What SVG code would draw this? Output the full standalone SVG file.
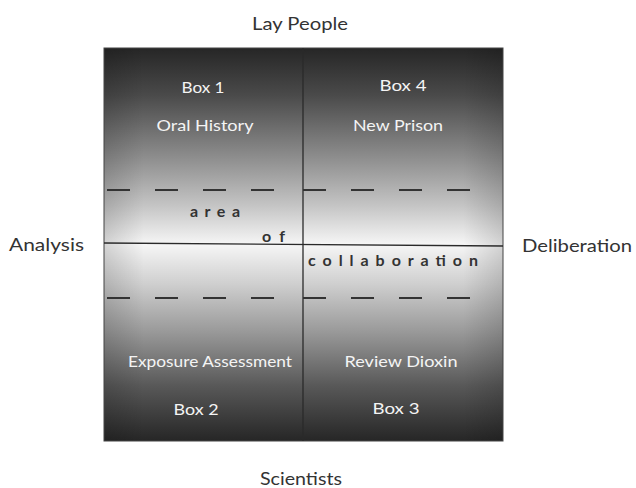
<svg xmlns="http://www.w3.org/2000/svg" width="636" height="488" viewBox="0 0 636 488">
<style>
.outer{font-family:"Lato","Open Sans","Liberation Sans",sans-serif;font-size:18px;fill:#333;}
.inner{font-family:"Lato","Open Sans","Liberation Sans",sans-serif;font-size:15px;fill:#f4f4f4;text-anchor:middle;}
.collab{font-family:"Lato","Open Sans","Liberation Sans",sans-serif;font-size:16px;font-weight:bold;fill:#333;}
.div{stroke:#2a2a2a;stroke-width:1.3;fill:none;}
.dash{stroke:#333;stroke-width:1.8;fill:none;stroke-dasharray:23 25;}
</style>
<defs>
<linearGradient id="vg" x1="0" y1="48" x2="0" y2="441" gradientUnits="userSpaceOnUse">
<stop offset="0" stop-color="#262626"/>
<stop offset="0.12" stop-color="#4a4a4a"/>
<stop offset="0.28" stop-color="#8e8e8e"/>
<stop offset="0.4" stop-color="#c4c4c4"/>
<stop offset="0.5" stop-color="#f6f6f6"/>
<stop offset="0.6" stop-color="#cfcfcf"/>
<stop offset="0.72" stop-color="#9a9a9a"/>
<stop offset="0.86" stop-color="#585858"/>
<stop offset="1" stop-color="#262626"/>
</linearGradient>
<linearGradient id="hg" x1="104" y1="0" x2="503" y2="0" gradientUnits="userSpaceOnUse">
<stop offset="0" stop-color="#000" stop-opacity="0.14"/>
<stop offset="0.1" stop-color="#000" stop-opacity="0"/>
<stop offset="0.9" stop-color="#000" stop-opacity="0"/>
<stop offset="1" stop-color="#000" stop-opacity="0.14"/>
</linearGradient>
</defs>
<rect width="636" height="488" fill="#fff"/>
<g id="matrix">
<rect x="104" y="48" width="399" height="393" fill="url(#vg)"/>
<rect x="104" y="48" width="399" height="393" fill="url(#hg)" stroke="#444" stroke-width="1"/>
</g>
<g id="connectors">
<line class="div" x1="303" y1="48" x2="303" y2="441"/>
<line class="div" x1="104" y1="243" x2="503" y2="246"/>
<line class="dash" x1="107" y1="190" x2="276" y2="190"/>
<line class="dash" x1="303" y1="190" x2="471" y2="190"/>
<line class="dash" x1="107" y1="298" x2="276" y2="298"/>
<line class="dash" x1="303" y1="298" x2="471" y2="298"/>
</g>
<g id="box1">
<text class="inner" x="203" y="93" textLength="43" lengthAdjust="spacingAndGlyphs">Box 1</text>
<text class="inner" x="205" y="131" textLength="97" lengthAdjust="spacingAndGlyphs">Oral History</text>
</g>
<g id="box4">
<text class="inner" x="403" y="91" textLength="47" lengthAdjust="spacingAndGlyphs">Box 4</text>
<text class="inner" x="398" y="131" textLength="90" lengthAdjust="spacingAndGlyphs">New Prison</text>
</g>
<g id="box2">
<text class="inner" x="210" y="367" textLength="164" lengthAdjust="spacingAndGlyphs">Exposure Assessment</text>
<text class="inner" x="196" y="415" textLength="45" lengthAdjust="spacingAndGlyphs">Box 2</text>
</g>
<g id="box3">
<text class="inner" x="401" y="367" textLength="113" lengthAdjust="spacingAndGlyphs">Review Dioxin</text>
<text class="inner" x="396" y="414" textLength="47" lengthAdjust="spacingAndGlyphs">Box 3</text>
</g>
<g id="collaboration">
<text class="collab" x="190" y="217" textLength="50" lengthAdjust="spacing">area</text>
<text class="collab" x="262" y="242" textLength="23" lengthAdjust="spacing">of</text>
<text class="collab" x="308" y="266" textLength="170" lengthAdjust="spacing">collaboration</text>
</g>
<g id="lay-people"><text class="outer" x="300" y="30" text-anchor="middle" textLength="96" lengthAdjust="spacingAndGlyphs">Lay People</text></g>
<g id="scientists"><text class="outer" x="301" y="485" text-anchor="middle" textLength="82" lengthAdjust="spacingAndGlyphs">Scientists</text></g>
<g id="analysis"><text class="outer" x="9" y="251" textLength="75" lengthAdjust="spacingAndGlyphs">Analysis</text></g>
<g id="deliberation"><text class="outer" x="522" y="252" textLength="110" lengthAdjust="spacingAndGlyphs">Deliberation</text></g>
</svg>
